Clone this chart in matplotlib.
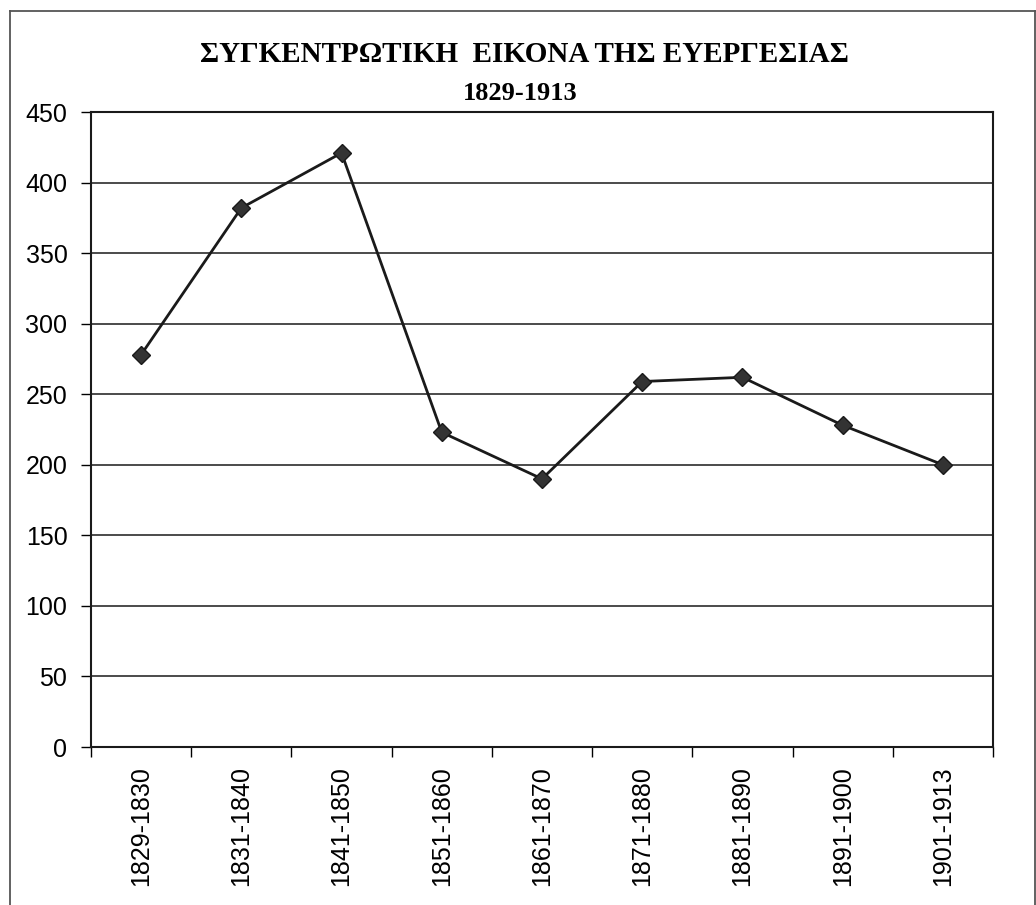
import matplotlib.pyplot as plt
from matplotlib.lines import Line2D

# decades and the totals for each
periods = ["1829-1830", "1831-1840", "1841-1850", "1851-1860", "1861-1870",
           "1871-1880", "1881-1890", "1891-1900", "1901-1913"]
totals = [278, 382, 421, 223, 190, 259, 262, 228, 200]
yticks = [0, 50, 100, 150, 200, 250, 300, 350, 400, 450]

title = "ΣΥΓΚΕΝΤΡΩΤΙΚΗ  ΕΙΚΟΝΑ ΤΗΣ ΕΥΕΡΓΕΣΙΑΣ"
subtitle = "1829-1913"

W, H = 1036, 905
fig = plt.figure(figsize=(W / 100, H / 100), dpi=100)
ax = fig.add_axes([91 / W, 1 - 747 / H, (993 - 91) / W, (747 - 112) / H])

x = list(range(len(periods)))
ax.plot(x, totals, color="#1a1a1a", lw=2.0, marker="D", ms=9,
        mfc="#333333", mec="#1a1a1a", zorder=3)

ax.set_xlim(-0.5, len(periods) - 0.5)
ax.set_ylim(0, 450)
ax.set_yticks(yticks)
ax.set_yticklabels([str(v) for v in yticks], fontsize=18, family="Liberation Sans")
ax.set_xticks(x)
ax.set_xticklabels(periods, rotation=90, fontsize=18, family="Liberation Sans")
ax.set_xticks([i - 0.5 for i in range(len(periods) + 1)], minor=True)

ax.tick_params(axis="x", which="major", length=0, pad=14)
ax.tick_params(axis="x", which="minor", length=7, width=1, direction="out")
ax.tick_params(axis="y", length=7, width=1, direction="out", pad=10)

ax.yaxis.grid(True, color="#1a1a1a", lw=1.1)
ax.set_axisbelow(True)
for s in ax.spines.values():
    s.set_color("#1a1a1a")
    s.set_linewidth(1.5)

fig.text(524 / W, 1 - 62 / H, title, ha="center", va="baseline",
         fontsize=21, fontweight="bold", family="Liberation Serif")
fig.text(520 / W, 1 - 100 / H, subtitle, ha="center", va="baseline",
         fontsize=19, fontweight="bold", family="Liberation Serif")

# outer frame around the whole chart
bx0, bx1, by0 = 10 / W, 1034.5 / W, 1 - 11 / H
for xs, ys in [([bx0, bx1], [by0, by0]), ([bx0, bx0], [by0, 0]), ([bx1, bx1], [by0, 0])]:
    fig.add_artist(Line2D(xs, ys, transform=fig.transFigure, color="#555555", lw=1.3))

fig.savefig("out.png", dpi=100)
